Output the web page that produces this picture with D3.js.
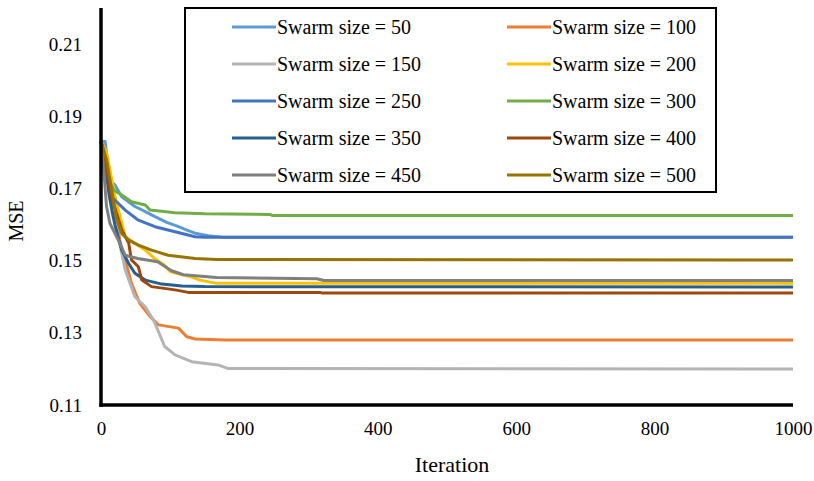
<!DOCTYPE html>
<html>
<head>
<meta charset="utf-8">
<script src="https://cdn.jsdelivr.net/npm/d3@7"></script>
<style>
  body { margin: 0; background: #fff; }
  text { font-family: "Liberation Serif", "Times New Roman", serif; fill: #000; }
</style>
</head>
<body>
<svg id="chart" width="814" height="481"></svg>
<script>
// swarm sizes and colours for each series
var swarmSizes = [50, 100, 150, 200, 250, 300, 350, 400, 450, 500];
var colors = ["#5B9BD5", "#ED7D31", "#B4B4B4", "#FFC000", "#4472C4",
              "#70AD47", "#255E91", "#9E480E", "#7F7F7F", "#997300"];

// [iteration, MSE]
var s50  = [[0,0.183],[6,0.183],[10,0.176],[14,0.172],[20,0.171],[30,0.1677],[49,0.165],[64,0.1636],[78,0.1622],[95,0.1606],[112,0.1594],[125,0.1584],[136,0.1576],[155,0.1569],[176,0.1565],[1000,0.1565]];
var s100 = [[0,0.183],[5,0.181],[12,0.174],[18,0.1677],[27,0.1557],[35,0.1502],[44,0.1437],[56,0.1382],[71,0.1345],[83,0.1322],[112,0.1313],[124,0.1289],[136,0.1283],[180,0.128],[1000,0.128]];
var s150 = [[0,0.183],[4,0.178],[10,0.171],[16,0.163],[23,0.1585],[35,0.1474],[49,0.14],[64,0.1372],[76,0.1335],[80,0.1317],[92,0.1262],[107,0.1239],[131,0.122],[169,0.1211],[184,0.1201],[1000,0.12]];
var s200 = [[0,0.183],[8,0.180],[15,0.173],[22,0.166],[28,0.162],[35,0.1566],[49,0.1548],[64,0.1529],[78,0.1505],[90,0.149],[100,0.147],[115,0.1462],[130,0.1455],[143,0.1446],[167,0.1437],[1000,0.1437]];
var s250 = [[0,0.183],[5,0.180],[10,0.172],[15,0.1677],[20,0.1668],[35,0.164],[54,0.1612],[78,0.1594],[107,0.158],[136,0.1566],[150,0.1565],[1000,0.1565]];
var s300 = [[0,0.183],[5,0.179],[10,0.173],[18,0.1696],[30,0.1682],[44,0.1663],[64,0.1654],[71,0.164],[107,0.1633],[150,0.1630],[244,0.1628],[248,0.1625],[1000,0.1625]];
var s350 = [[0,0.183],[5,0.178],[12,0.168],[20,0.160],[30,0.1529],[40,0.1492],[49,0.1465],[64,0.1446],[88,0.1435],[117,0.1430],[150,0.1428],[1000,0.1427]];
var s400 = [[0,0.183],[6,0.178],[15,0.1677],[30,0.1585],[40,0.1549],[44,0.1502],[54,0.1483],[59,0.1446],[73,0.1428],[107,0.1419],[126,0.1412],[316,0.1412],[320,0.141],[1000,0.141]];
var s450 = [[0,0.183],[4,0.175],[8,0.165],[13,0.1603],[25,0.1557],[35,0.1515],[53,0.1506],[82,0.1497],[102,0.1472],[119,0.1461],[167,0.1453],[312,0.1450],[322,0.1445],[1000,0.1445]];
var s500 = [[0,0.183],[8,0.178],[15,0.170],[22,0.162],[30,0.1575],[40,0.1557],[54,0.1543],[73,0.1529],[97,0.1515],[136,0.1506],[167,0.1503],[1000,0.1502]];
var seriesData = [s50, s100, s150, s200, s250, s300, s350, s400, s450, s500];

var xTicks = [0, 200, 400, 600, 800, 1000];
var yTicks = [0.11, 0.13, 0.15, 0.17, 0.19, 0.21];

var svg = d3.select("#chart");
var plotLeft = 101, plotRight = 793, plotTop = 8, plotBottom = 405;

var x = d3.scaleLinear().domain([0, 1000]).range([plotLeft, plotRight]);
var y = d3.scaleLinear().domain([0.11, 0.22]).range([plotBottom, plotTop]);

var line = d3.line()
    .x(function (d) { return x(d[0]); })
    .y(function (d) { return y(d[1]); });

// series lines
svg.append("g").selectAll("path")
    .data(seriesData)
    .enter().append("path")
    .attr("d", line)
    .attr("fill", "none")
    .attr("stroke", function (d, i) { return colors[i]; })
    .attr("stroke-width", 3)
    .attr("stroke-linejoin", "round");

// axes
var xAxis = svg.append("g")
    .attr("transform", "translate(0," + plotBottom + ")")
    .call(d3.axisBottom(x).tickValues(xTicks).tickSize(0).tickPadding(17)
        .tickFormat(d3.format("d")));
var yAxis = svg.append("g")
    .attr("transform", "translate(" + plotLeft + ",0)")
    .call(d3.axisLeft(y).tickValues(yTicks).tickSize(0).tickPadding(19)
        .tickFormat(d3.format(".2f")));

[xAxis, yAxis].forEach(function (g) {
    g.select(".domain").attr("stroke", "#000").attr("stroke-width", 3.5);
    g.selectAll("text").style("font-size", "19px")
        .style("font-family", "'Liberation Serif', serif");
});
yAxis.select(".domain").attr("d", "M0," + plotTop + "V" + (plotBottom + 1.75));
xAxis.select(".domain").attr("d", "M" + (plotLeft - 1.75) + ",0H" + plotRight);

// axis titles
svg.append("text")
    .attr("x", 452)
    .attr("y", 472)
    .attr("text-anchor", "middle")
    .style("font-size", "22px")
    .text("Iteration");
svg.append("text")
    .attr("transform", "translate(23,221) rotate(-90)")
    .attr("text-anchor", "middle")
    .style("font-size", "20px")
    .text("MSE");

// legend
var legend = svg.append("g");
legend.append("rect")
    .attr("x", 185).attr("y", 8)
    .attr("width", 531).attr("height", 184)
    .attr("fill", "#fff")
    .attr("stroke", "#000")
    .attr("stroke-width", 2);

var items = legend.selectAll("g.item")
    .data(swarmSizes)
    .enter().append("g")
    .attr("class", "item")
    .attr("transform", function (d, i) {
        return "translate(" + (i % 2 === 0 ? 232 : 507) + "," + (27 + Math.floor(i / 2) * 37) + ")";
    });
items.append("line")
    .attr("x1", 0).attr("x2", 44)
    .attr("stroke", function (d, i) { return colors[i]; })
    .attr("stroke-width", 3);
items.append("text")
    .attr("x", 45)
    .attr("dy", "0.35em")
    .style("font-size", "20px")
    .text(function (d) { return "Swarm size = " + d; });
</script>
</body>
</html>
